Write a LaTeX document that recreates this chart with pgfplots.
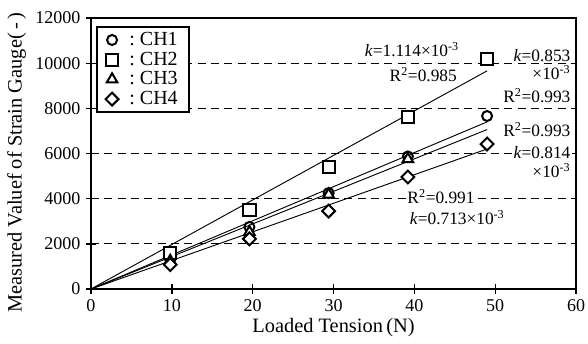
\documentclass[border=0pt]{standalone}
\usepackage{fontspec}
\setmainfont{Liberation Serif}
\usepackage{pgfplots}
\pgfplotsset{compat=1.18}
\begin{document}
\fontsize{13}{15}\selectfont
\begin{tikzpicture}
\begin{axis}[
  at={(0,0)}, anchor=south west,
  scale only axis, width=363.75pt, height=203.25pt,
  xmin=0, xmax=60, ymin=0, ymax=12000,
  xtick={0,10,20,30,40,50,60},
  ytick={0,2000,4000,6000,8000,10000,12000},
  scaled ticks=false,
  /pgf/number format/assume math mode=true,
  /pgf/number format/set thousands separator={},
  tick align=center, major tick length=7pt,
  xtick pos=bottom, ytick pos=left,
  tick style={black, line width=1pt},
  axis line style={black, line width=1.5pt},
  ymajorgrids, grid style={black, dashed, line width=0.7pt, dash pattern=on 6pt off 4pt},
  ticklabel style={font=\fontsize{13.5}{15}\selectfont},
  xlabel={Loaded Tension\,(N)},
  ylabel={Measured Valuef of Strain Gauge(\,-\,)},
  label style={font=\fontsize{15.3}{17}\selectfont},
  xlabel style={yshift=4pt},
  ylabel style={yshift=-2pt, xshift=-7pt},
  legend style={at={(0.0103,0.97)}, anchor=north west, draw=black, line width=1.5pt,
    fill=white, font=\fontsize{15}{17}\selectfont, row sep=-1.5pt, inner xsep=6.5pt, inner ysep=1.5pt,
    nodes={inner sep=2.2pt}},
  legend image code/.code={\draw[#1] plot coordinates {(0.3cm,0cm)};},
  legend cell align=left,
  clip=false,
]
% fit lines
\addplot[black, line width=0.7pt, forget plot] coordinates {(0,0) (49,7400)};
\addplot[black, line width=0.7pt, forget plot] coordinates {(0,0) (49,9660)};
\addplot[black, line width=0.7pt, forget plot] coordinates {(0,0) (49,7060)};
\addplot[black, line width=0.7pt, forget plot] coordinates {(0,0) (49,6200)};
% data
\addplot[only marks, mark=o, mark size=3.75pt, mark options={line width=1.5pt, fill=white, draw=black}]
  coordinates {(9.8,1290)(19.6,2750)(29.4,4250)(39.2,5870)(49,7660)};
\addlegendentry{\hspace{6pt}:\ CH1}
\addplot[only marks, mark=square*, mark size=4.6pt, mark options={line width=1.5pt, fill=white, draw=black}]
  coordinates {(9.8,1600)(19.6,3500)(29.4,5400)(39.2,7620)(49,10180)};
\addlegendentry{\hspace{6pt}:\ CH2}
\addplot[only marks, mark=triangle*, mark size=4.6pt, mark options={line width=1.5pt, fill=white, draw=black}]
  coordinates {(9.8,1240)(19.6,2520)(29.4,4180)(39.2,5750)};
\addlegendentry{\hspace{6pt}:\ CH3}
\addplot[only marks, mark=square*, mark size=3.4pt, mark options={rotate=45, line width=1.5pt, fill=white, draw=black}]
  coordinates {(9.8,1080)(19.6,2220)(29.4,3450)(39.2,4960)(49,6420)};
\addlegendentry{\hspace{6pt}:\ CH4}
% annotations
\tikzset{ann/.style={fill=white, inner sep=1pt, font=\fontsize{13}{15}\selectfont}}
\node[ann, fill=none] at (axis cs:39.7,10583) {\textit{k}=1.114×10\textsuperscript{-3}};
\node[ann, fill=none] at (axis cs:41.1,9476) {R\textsuperscript{2}=0.985};
\node[ann, anchor=east, inner ysep=0pt] at (axis cs:59.5,10320) {\textit{k}=0.853};
\node[ann, anchor=east, fill=none, inner ysep=0pt] at (axis cs:59.5,9580) {×10\textsuperscript{-3}};
\node[ann, anchor=east, fill=none] at (axis cs:59.5,8546) {R\textsuperscript{2}=0.993};
\node[ann, anchor=east, fill=none] at (axis cs:59.5,7041) {R\textsuperscript{2}=0.993};
\node[ann, anchor=east, inner ysep=0pt] at (axis cs:59.5,6060) {\textit{k}=0.814};
\node[ann, anchor=east, fill=none, inner ysep=0pt] at (axis cs:59.5,5240) {×10\textsuperscript{-3}};
\node[ann] at (axis cs:43.3,4074) {R\textsuperscript{2}=0.991};
\node[ann, fill=none] at (axis cs:45.3,3144) {\textit{k}=0.713×10\textsuperscript{-3}};
\end{axis}
\pgfresetboundingbox
\useasboundingbox (-68.25pt,-40.5pt) rectangle (372.75pt,216.75pt);
\end{tikzpicture}
\end{document}
